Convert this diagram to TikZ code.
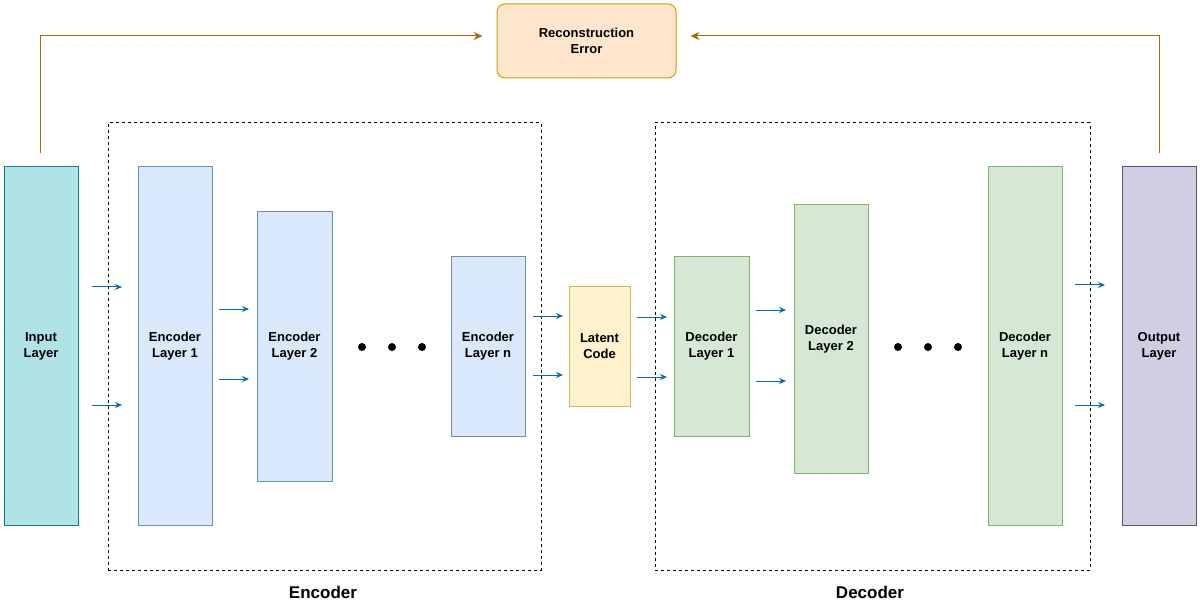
\documentclass[tikz,border=0pt]{standalone}
\usepackage{fontspec}
\setmainfont{Liberation Sans}
\usetikzlibrary{arrows.meta}
\definecolor{inF}{HTML}{B0E3E6}\definecolor{inD}{HTML}{0E8088}
\definecolor{enF}{HTML}{DAE8FC}\definecolor{enD}{HTML}{6C8EBF}
\definecolor{laF}{HTML}{FFF2CC}\definecolor{laD}{HTML}{D6B656}
\definecolor{deF}{HTML}{D5E8D4}\definecolor{deD}{HTML}{82B366}
\definecolor{ouF}{HTML}{D0CEE2}\definecolor{ouD}{HTML}{56517E}
\definecolor{reF}{HTML}{FFE6CC}\definecolor{reD}{HTML}{D79B00}
\definecolor{fb}{HTML}{B46504}\definecolor{bl}{HTML}{006EAF}
\begin{document}
\begin{tikzpicture}[x=1pt,y=-1pt,
 lay/.style={draw,line width=1pt,align=center,font=\fontsize{13}{16}\selectfont\bfseries,inner sep=0pt},
 sa/.style={-{Stealth[length=7pt,width=6pt]},draw=bl,line width=1pt},
 fba/.style={-{Stealth[length=9pt,width=8pt]},draw=fb,line width=1pt},
 box/.style={draw,dashed,line width=1pt},
 dot/.style={circle,fill=black,inner sep=0pt,minimum size=8pt}]
\useasboundingbox (0,0) rectangle (1200,604);
\newcommand\lay[7]{\node[lay,fill=#5,draw=#6,minimum width=#3-#2,minimum height=#4-#7] (#1) at ({(#2+#3)/2},{(#4+#7)/2}) {};}
\node[lay,fill=inF,draw=inD,minimum width=74,minimum height=358] (in) at (41,346) {Input\\Layer};
\node[box,minimum width=433,minimum height=447,inner sep=0pt] (enc) at (324.5,346.5) {};
\node[box,minimum width=435,minimum height=447,inner sep=0pt] (dec) at (872.5,346.5) {};
\node[lay,fill=enF,draw=enD,minimum width=74,minimum height=358] (e1) at (175,346) {Encoder\\Layer 1};
\node[lay,fill=enF,draw=enD,minimum width=75,minimum height=269] (e2) at (294.5,346.5) {Encoder\\Layer 2};
\node[lay,fill=enF,draw=enD,minimum width=74,minimum height=179] (en) at (488,346.5) {Encoder\\Layer n};
\node[lay,fill=laF,draw=laD,minimum width=61,minimum height=119] (lat) at (599.5,346.5) {Latent\\Code};
\node[lay,fill=deF,draw=deD,minimum width=75,minimum height=179] (d1) at (711.5,346.5) {Decoder\\Layer 1};
\node[lay,fill=deF,draw=deD,minimum width=74,minimum height=268] (d2) at (831,339) {Decoder\\Layer 2};
\node[lay,fill=deF,draw=deD,minimum width=74,minimum height=358] (dn) at (1025,346) {Decoder\\Layer n};
\node[lay,fill=ouF,draw=ouD,minimum width=74,minimum height=358] (out) at (1159,346) {Output\\Layer};
\node[lay,fill=reF,draw=reD,rounded corners=8pt,minimum width=179,minimum height=74] (re) at (586.5,41) {Reconstruction\\Error};
\foreach \x/\n in {362/a1,392/a2,422/a3,898/b1,928/b2,958/b3} \node[dot] (\n) at (\x,347) {};
\node[font=\fontsize{17}{20}\selectfont\bfseries] (encl) at (323,592) {Encoder};
\node[font=\fontsize{17}{20}\selectfont\bfseries] (decl) at (870,592) {Decoder};
\coordinate (fa) at (40,153); \coordinate (fb) at (1159,153);
\draw[fba] (fa) |- ([xshift=-14pt,yshift=5pt]re.west);
\draw[fba] (fb) |- ([xshift=14pt,yshift=5pt]re.east);
\foreach \xa/\y in {92/287,92/405,219/309,219/379,533/316,533/375,637/317,637/377,756/310,756/381,1075/285,1075/405}
 \draw[sa] (\xa,\y) -- (\xa+30,\y);
\end{tikzpicture}
\end{document}
